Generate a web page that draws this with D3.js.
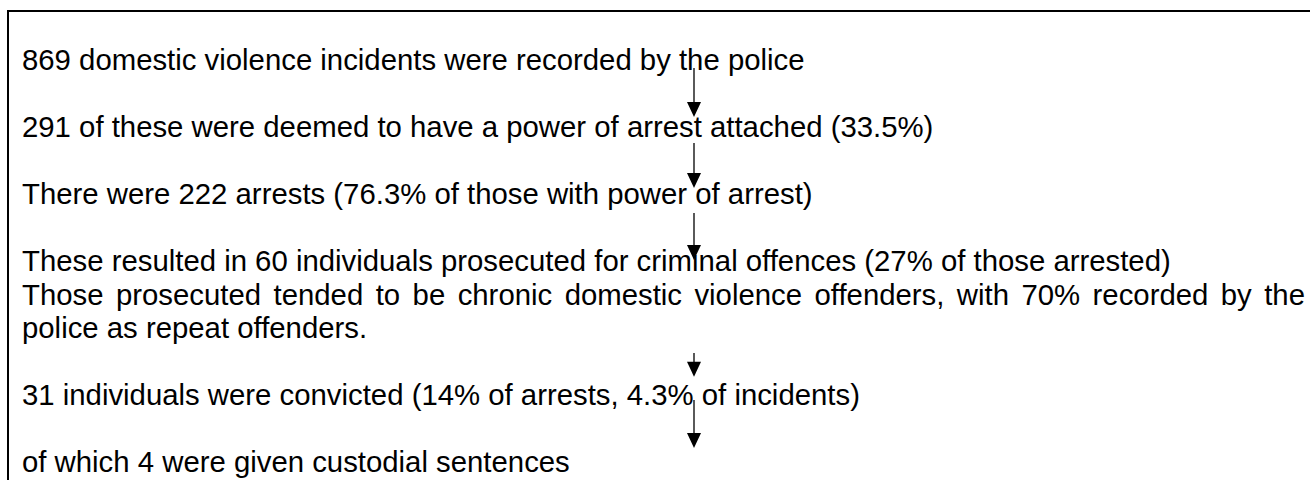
<html>
<head>
<title>Domestic violence attrition</title>
<script src="https://d3js.org/d3.v7.min.js"></script>
<style>
  body { margin: 0; background: #fff; }
  .stage { font-family: "Liberation Sans", Arial, sans-serif; font-size: 29.33px; fill: #000; }
</style>
</head>
<body>
<div id="chart"></div>
<script>

// the stages of the flow, top to bottom
const stages = [
  "869 domestic violence incidents were recorded by the police",
  "291 of these were deemed to have a power of arrest attached (33.5%)",
  "There were 222 arrests (76.3% of those with power of arrest)",
  "These resulted in 60 individuals prosecuted for criminal offences (27% of those arrested)",
  "31 individuals were convicted (14% of arrests, 4.3% of incidents)",
  "of which 4 were given custodial sentences"
];

// note paragraph that follows the prosecution stage
const noteAfterStage = 3;
const noteLines = [
  "Those prosecuted tended to be chronic domestic violence offenders, with 70% recorded by the",
  "police as repeat offenders."
];

// arrows, start and tip in line units
const arrowSpans = [
  [-0.06, 1.40],
  [2.18, 3.52],
  [4.27, 5.67],
  [8.45, 9.16],
  [9.85, 11.28]
];

const width = 1310, height = 480;
const left = 22, right = 1305, arrowX = 694;

// build rows: each stage, its note if any, then a blank line
var rows = [];
var slot = 0;
stages.forEach((s, i) => {
  rows.push({text: s, slot: slot, justify: false});
  slot += 1;
  if (i == noteAfterStage) {
    noteLines.forEach((n, j) => {
      rows.push({text: n, slot: slot, justify: j < noteLines.length - 1});
      slot += 1;
    });
  }
  slot += 1;
});

var y = d3.scaleLinear().domain([0, 1]).range([70, 103.5]);

var svg = d3.select("#chart").append("svg")
            .attr("width", width)
            .attr("height", height);

// box border, open to the right and bottom
svg.append("path")
   .attr("d", "M 8 " + (height + 2) + " V 11 H " + (width + 2))
   .attr("fill", "none")
   .attr("stroke", "#000")
   .attr("stroke-width", 2);

svg.selectAll("text.stage")
   .data(rows)
   .enter()
   .append("text")
   .attr("class", "stage")
   .attr("x", left)
   .attr("y", (d) => y(d.slot))
   .text((d) => d.text)
   .each(function(d) {
     if (!d.justify) return;
     var natural = this.getComputedTextLength();
     var gaps = d.text.split(" ").length - 1;
     d3.select(this).attr("word-spacing", ((right - left - natural) / gaps) + "px");
   });

// arrows
var arrows = svg.selectAll("g.arrow")
                .data(arrowSpans)
                .enter()
                .append("g")
                .attr("class", "arrow");

arrows.append("line")
      .attr("x1", arrowX).attr("x2", arrowX)
      .attr("y1", (d) => y(d[0]))
      .attr("y2", (d) => y(d[1]) - 12)
      .attr("stroke", "#000")
      .attr("stroke-width", 1.3);

arrows.append("path")
      .attr("d", (d) => {
        var t = y(d[1]);
        return "M " + (arrowX - 7) + " " + (t - 15) + " L " + (arrowX + 7) + " " + (t - 15) + " L " + arrowX + " " + t + " Z";
      })
      .attr("fill", "#000");

</script>
</body>
</html>
